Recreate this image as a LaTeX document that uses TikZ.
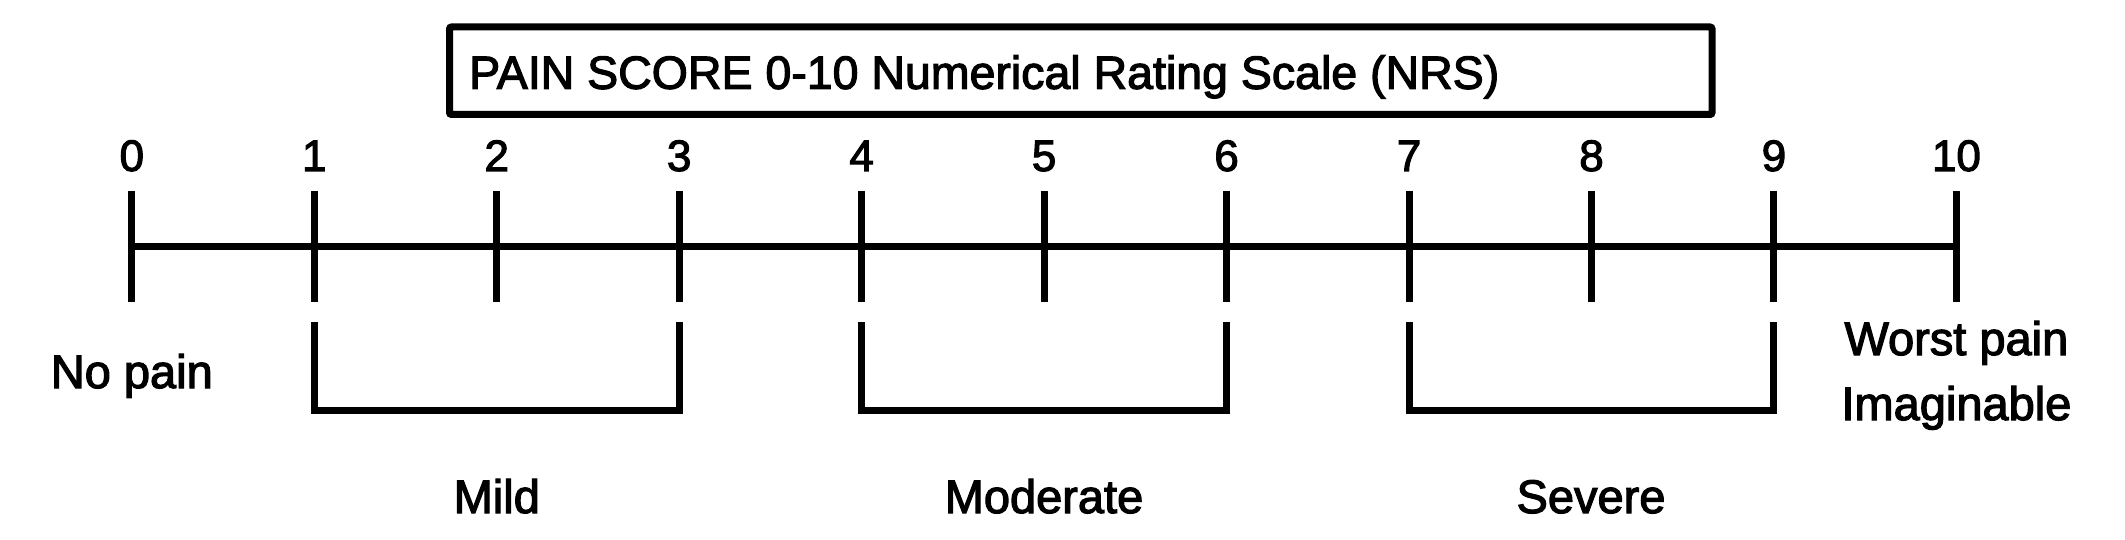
\documentclass[tikz,border=0pt]{standalone}
\usepackage{fontspec}
\setmainfont{Liberation Sans}[FakeBold=2.5]
\begin{document}
\begin{tikzpicture}[x=1pt,y=-1pt,
  bar/.style={line width=7pt, line cap=butt},
  tlabel/.style={anchor=base, inner sep=0pt, font=\fontsize{44}{50}\selectfont},
  word/.style={anchor=base, inner sep=0pt, align=center, font=\fontsize{47}{65}\selectfont}]
\useasboundingbox (0,0) rectangle (2125,540);
% title
\node[draw, line width=7pt, rounded corners=2pt, minimum width=1262.5pt, minimum height=87.5pt, inner sep=0pt] (titlebox) at (1080.75,70.75) {};
\node[anchor=base west, inner sep=0pt, font=\fontsize{46.5}{55}\selectfont] (title) at (469,88.8) {PAIN SCORE 0-10 Numerical Rating Scale (NRS)};
% ticks
\foreach \i in {0,...,10} {
  \coordinate (top\i) at ({131.8+182.46*\i},191);
  \coordinate (bot\i) at ({131.8+182.46*\i},302);
  \coordinate (mid\i) at ({131.8+182.46*\i},246);
  \node[tlabel] (n\i) at ({131.8+182.46*\i},171) {\i};
  \draw[bar] (top\i) -- (bot\i);
}
\draw[bar] (mid0) -- (mid10);
% brackets
\foreach \a/\b in {1/3,4/6,7/9} {
  \draw[bar, line join=miter] ([yshift=-131pt]top\a) -- ([yshift=-219.5pt]top\a) -- ([yshift=-219.5pt]top\b) -- ([yshift=-131pt]top\b);
}
% labels
\node[word] (nopain) at (131.8,388) {No pain};
\node[word] (mild) at (496.8,513) {Mild};
\node[word] (moderate) at (1044,513) {Moderate};
\node[word] (severe) at (1591,513) {Severe};
\node[word] (worst) at (1956.4,420) {Worst pain\\Imaginable};
\end{tikzpicture}
\end{document}
